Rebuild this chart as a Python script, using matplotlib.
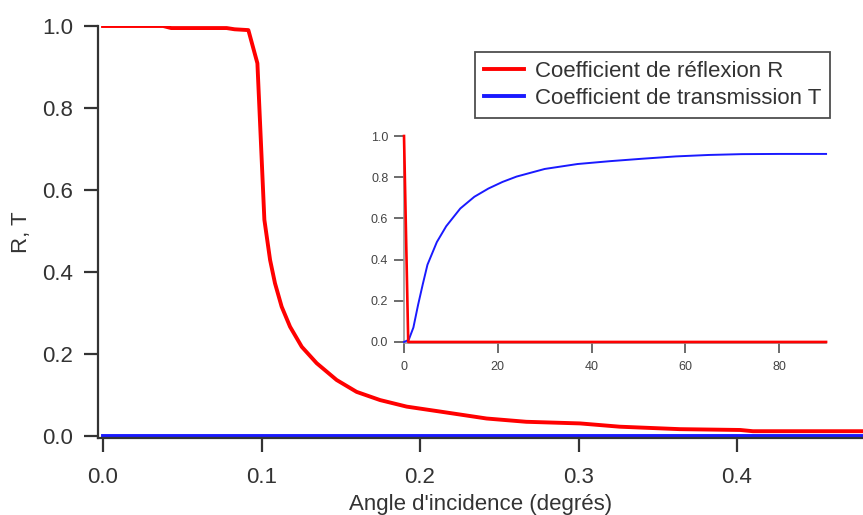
import matplotlib
matplotlib.use("Agg")
import matplotlib.pyplot as plt

plt.rcParams['font.family'] = ['Liberation Sans', 'DejaVu Sans']

# main plot: small angles (degrees)
main_angle = [0.0, 0.038, 0.043, 0.078, 0.083, 0.0917, 0.0974, 0.1018, 0.1054, 0.1085,
              0.1127, 0.118, 0.1254, 0.1348, 0.1474, 0.16, 0.1748, 0.1916, 0.2126,
              0.242, 0.267, 0.301, 0.326, 0.364, 0.402, 0.41, 0.48]
main_R = [1.0, 1.0, 0.995, 0.995, 0.992, 0.99, 0.909, 0.527, 0.429, 0.372,
          0.315, 0.266, 0.217, 0.177, 0.136, 0.107, 0.087, 0.071, 0.059,
          0.042, 0.034, 0.030, 0.022, 0.016, 0.014, 0.011, 0.011]
main_T_angle = [0.0, 0.48]
main_T = [0.0, 0.0]

# inset: full range 0-90 degrees
inset_R_angle = [0, 0.9, 90]
inset_R = [1.0, 0.0, 0.0]
inset_T_angle = [0, 1, 2, 3, 4, 5, 7, 9, 12, 15, 18, 21, 24, 30, 37, 44, 51, 58, 65, 72, 80, 90]
inset_T = [0.0, 0.01, 0.07, 0.18, 0.28, 0.375, 0.485, 0.562, 0.648, 0.705, 0.745, 0.777,
           0.803, 0.84, 0.864, 0.878, 0.89, 0.901, 0.908, 0.912, 0.913, 0.913]

txt = '#333333'
fig = plt.figure(figsize=(8.63, 5.15), dpi=100)
ax = fig.add_axes([0.1136, 0.1495, 0.8864, 0.80])

l1, = ax.plot(main_angle, main_R, color='#ff0000', lw=2.8, label='Coefficient de réflexion R')
l2, = ax.plot(main_T_angle, main_T, color='#1a1aff', lw=2.8, label='Coefficient de transmission T')
ax.set_xlim(-0.00315, 0.4795)
ax.set_ylim(-0.0056, 1.0)
ax.set_xticks([0.0, 0.1, 0.2, 0.3, 0.4])
ax.set_yticks([0.0, 0.2, 0.4, 0.6, 0.8, 1.0])
ax.xaxis.set_major_formatter(matplotlib.ticker.FormatStrFormatter('%.1f'))
ax.yaxis.set_major_formatter(matplotlib.ticker.FormatStrFormatter('%.1f'))
for s in ['top', 'right']:
    ax.spines[s].set_visible(False)
for s in ['left', 'bottom']:
    ax.spines[s].set_color('#333333')
    ax.spines[s].set_linewidth(1.6)
ax.tick_params(length=10, width=1.6, color='#333333', labelsize=16, labelcolor=txt)
ax.tick_params(axis='x', pad=11)
ax.tick_params(axis='y', pad=8)
ax.set_xlabel("Angle d'incidence (degrés)", fontsize=16, color=txt, labelpad=4)
ax.set_ylabel('R, T', fontsize=16, color=txt, labelpad=7)

# inset
ins = fig.add_axes([0.4676, 0.334, 0.4896, 0.4019])
ins.plot(inset_T_angle, inset_T, color='#1a1aff', lw=1.4, zorder=3, clip_on=False)
ins.plot(inset_R_angle, inset_R, color='#ff0000', lw=1.9, zorder=3, clip_on=False)
ins.set_xlim(-0.1, 90)
ins.set_ylim(-0.005, 1.0)
ins.set_xticks([0, 20, 40, 60, 80])
ins.set_yticks([0.0, 0.2, 0.4, 0.6, 0.8, 1.0])
ins.yaxis.set_major_formatter(matplotlib.ticker.FormatStrFormatter('%.1f'))
for s in ['top', 'right']:
    ins.spines[s].set_visible(False)
for s in ['left', 'bottom']:
    ins.spines[s].set_color('#999999')
    ins.spines[s].set_linewidth(1.2)
ins.tick_params(length=7, width=1.1, color='#444444', labelsize=9, labelcolor='#444444', pad=4)
ins.tick_params(axis='x', pad=6)

fig.legend(handles=[l1, l2], loc='upper right', bbox_to_anchor=(0.9618, 0.8996),
           fontsize=16, frameon=True, fancybox=False, edgecolor='#222222',
           handlelength=1.8, handletextpad=0.5, borderpad=0.4, labelspacing=0.3,
           borderaxespad=0)
fig.legends[0].get_frame().set_linewidth(1.3)
for t in fig.legends[0].get_texts():
    t.set_color(txt)

fig.savefig('out.png', dpi=100)
